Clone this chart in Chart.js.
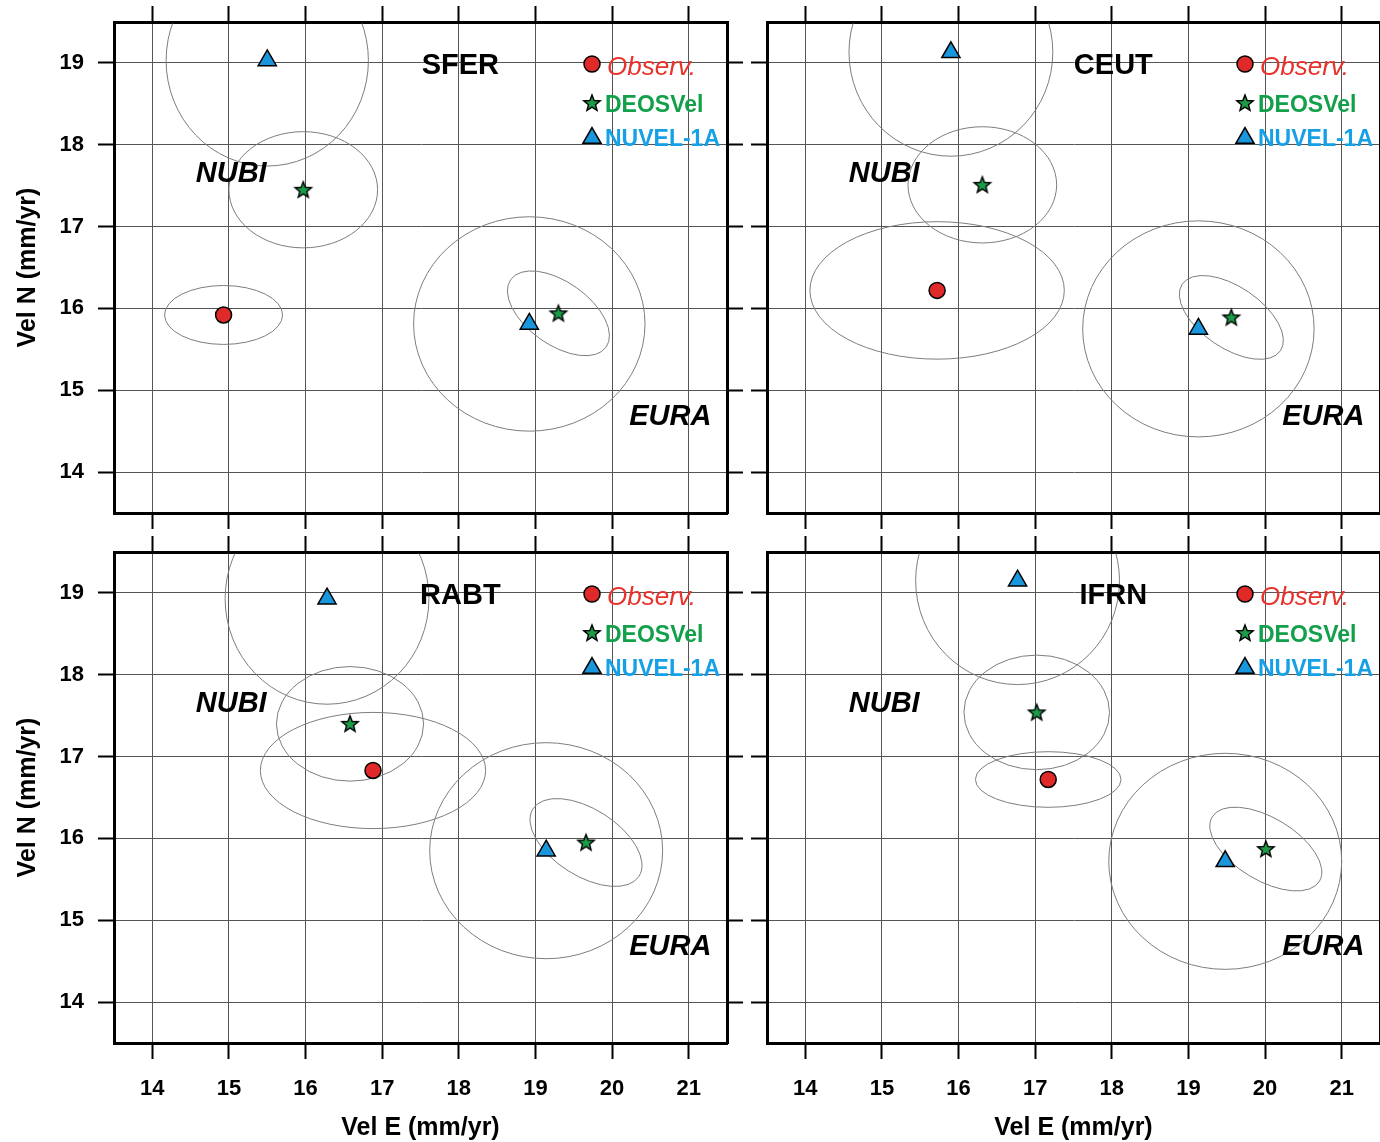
<!DOCTYPE html>
<html>
<head>
<meta charset="utf-8">
<script src="https://cdn.jsdelivr.net/npm/chart.js@4.4.1/dist/chart.umd.min.js"></script>
<style>
  html, body { margin: 0; padding: 0; background: #fff; overflow: hidden; width: 1380px; height: 1142px; }
  canvas { position: absolute; }
</style>
</head>
<body>
<canvas id="c0" width="747" height="533" style="left:0;top:0"></canvas>
<canvas id="c1" width="653" height="533" style="left:747px;top:0"></canvas>
<canvas id="c2" width="747" height="609" style="left:0;top:533px"></canvas>
<canvas id="c3" width="653" height="609" style="left:747px;top:533px"></canvas>
<script>
// GPS stations, one panel each
const STATIONS = ['SFER', 'CEUT', 'RABT', 'IFRN'];
const E_TICKS = [14, 15, 16, 17, 18, 19, 20, 21];
const N_TICKS = [14, 15, 16, 17, 18, 19];

// Per station: [Vel E, Vel N, ellipse semi-axis E, ellipse semi-axis N, E/N correlation] (mm/yr)
const OBSERVED = [
  [14.93, 15.92, 0.77, 0.36, 0],
  [15.72, 16.22, 1.66, 0.84, 0],
  [16.88, 16.83, 1.47, 0.71, 0],
  [17.17, 16.72, 0.95, 0.34, 0]
];
const DEOS_NUBI = [
  [15.97, 17.45, 0.97, 0.71, 0],
  [16.31, 17.51, 0.97, 0.71, 0],
  [16.58, 17.40, 0.96, 0.70, 0],
  [17.02, 17.54, 0.95, 0.70, 0]
];
const DEOS_EURA = [
  [19.30, 15.94, 0.666, 0.518, -0.53],
  [19.56, 15.89, 0.679, 0.512, -0.55],
  [19.66, 15.95, 0.731, 0.537, -0.52],
  [20.01, 15.87, 0.731, 0.512, -0.55]
];
const NUVEL_NUBI = [
  [15.50, 19.03, 1.32, 1.29, 0],
  [15.90, 19.13, 1.33, 1.27, 0],
  [16.28, 18.93, 1.33, 1.29, 0],
  [16.77, 19.15, 1.33, 1.27, 0]
];
const NUVEL_EURA = [
  [18.92, 15.81, 1.51, 1.31, 0],
  [19.13, 15.75, 1.51, 1.32, 0],
  [19.14, 15.85, 1.52, 1.32, 0],
  [19.48, 15.72, 1.52, 1.32, 0]
];

const FONT = "'Liberation Sans', Arial, Helvetica, sans-serif";
const RED = '#e02a2a', GREEN = '#1c9c48', BLUE = '#1a97dc';
const RED_TXT = '#e8322c', GREEN_TXT = '#12a04a', BLUE_TXT = '#16a0e6';
const GRID = '#555';
const E_MIN = 13.5, E_MAX = 21.5, N_MIN = 13.5, N_MAX = 19.5;

// filled five-pointed star used as a point marker
function makeStar(fill) {
  const c = document.createElement('canvas');
  c.width = 22; c.height = 22;
  const g = c.getContext('2d');
  g.beginPath();
  for (let k = 0; k < 10; k++) {
    const r = k % 2 ? 3.7 : 8.6;
    const a = -Math.PI / 2 + k * Math.PI / 5;
    const px = 11 + r * Math.cos(a), py = 11.5 + r * Math.sin(a);
    if (k) g.lineTo(px, py); else g.moveTo(px, py);
  }
  g.closePath();
  g.fillStyle = fill; g.fill();
  g.lineWidth = 1.4; g.strokeStyle = '#000'; g.lineJoin = 'miter'; g.stroke();
  return c;
}
const STAR = makeStar(GREEN);

const toPoint = v => ({ x: v[0], y: v[1], sE: v[2], sN: v[3], r: v[4] });

// error ellipses drawn through the panel's scales, under the markers
const ellipsePlugin = {
  id: 'errorEllipses',
  beforeDatasetsDraw(chart) {
    const { ctx, chartArea: a, scales } = chart;
    const xs = scales.x, ys = scales.y;
    ctx.save();
    ctx.beginPath();
    ctx.rect(a.left + 1.5, a.top + 1.5, a.right - a.left - 3, a.bottom - a.top - 3);
    ctx.clip();
    ctx.strokeStyle = '#7d7d7d';
    ctx.lineWidth = 1;
    chart.data.datasets.forEach(ds => ds.data.forEach(p => {
      const cx = xs.getPixelForValue(p.x), cy = ys.getPixelForValue(p.y);
      const ax = xs.getPixelForValue(p.x + p.sE) - cx;
      const ay = cy - ys.getPixelForValue(p.y + p.sN);
      const sxx = ax * ax, syy = ay * ay, sxy = -p.r * ax * ay;
      const m = (sxx + syy) / 2;
      const d = Math.sqrt(((sxx - syy) / 2) ** 2 + sxy * sxy);
      const rot = 0.5 * Math.atan2(2 * sxy, sxx - syy);
      ctx.beginPath();
      ctx.ellipse(cx, cy, Math.sqrt(m + d), Math.sqrt(Math.max(m - d, 0)), rot, 0, Math.PI * 2);
      ctx.stroke();
    }));
    ctx.restore();
  }
};

// station name, plate names and the key
const annotationPlugin = {
  id: 'panelText',
  afterDatasetsDraw(chart) {
    const { ctx, chartArea: a, scales } = chart;
    const xs = scales.x, ys = scales.y;
    const name = chart.options.plugins.panelText.station;
    ctx.save();
    ctx.textAlign = 'center';
    ctx.textBaseline = 'middle';
    ctx.fillStyle = '#000';
    ctx.font = `bold 29px ${FONT}`;
    ctx.fillText(name, xs.getPixelForValue(18.02), ys.getPixelForValue(18.96));
    ctx.font = `italic bold 29px ${FONT}`;
    ctx.fillText('NUBI', xs.getPixelForValue(15.03), ys.getPixelForValue(17.645));
    ctx.fillText('EURA', xs.getPixelForValue(20.76), ys.getPixelForValue(14.675));

    const mx = a.left + 478;
    const items = [
      { style: 'circle', radius: 8, fill: RED, dy: 42, text: 'Observ.', font: `italic 26px ${FONT}`, color: RED_TXT, tx: 15, ty: 46 },
      { style: STAR, radius: 8, fill: GREEN, dy: 81, text: 'DEOSVel', font: `bold 23px ${FONT}`, color: GREEN_TXT, tx: 13, ty: 84 },
      { style: 'triangle', radius: 10.5, fill: BLUE, dy: 116, text: 'NUVEL-1A', font: `bold 23px ${FONT}`, color: BLUE_TXT, tx: 13, ty: 118 }
    ];
    items.forEach(it => {
      ctx.fillStyle = it.fill;
      ctx.strokeStyle = '#000';
      ctx.lineWidth = 1.5;
      Chart.helpers.drawPoint(ctx, { pointStyle: it.style, radius: it.radius, borderWidth: 1.5, rotation: 0 }, mx, a.top + it.dy);
      ctx.font = it.font;
      ctx.fillStyle = it.color;
      ctx.textAlign = 'left';
      ctx.fillText(it.text, mx + it.tx, a.top + it.ty);
    });
    ctx.restore();
  }
};

function noPad(s) { s.paddingTop = 0; s.paddingBottom = 0; s.paddingLeft = 0; s.paddingRight = 0; }

function buildChart(id, i, layout) {
  const { leftW, rightW, topH, bottomH, showE, showN } = layout;
  const tickFont = { family: FONT, size: 22, weight: 'bold' };
  const titleFont = { family: FONT, size: 25, weight: 'bold', lineHeight: 1.1 };
  const gridMain = { color: GRID, lineWidth: 1, drawTicks: true, tickLength: 16, tickWidth: 2, tickColor: '#000' };
  const gridEdge = Object.assign({}, gridMain, { drawOnChartArea: false });
  const border = { display: true, color: '#000', width: 3 };
  const eTicks = s => { s.ticks = E_TICKS.map(v => ({ value: v })); };
  const nTicks = s => { s.ticks = N_TICKS.map(v => ({ value: v })); };

  return new Chart(document.getElementById(id), {
    type: 'scatter',
    data: {
      datasets: [
        { label: 'Observ.', data: [toPoint(OBSERVED[i])], pointStyle: 'circle', pointRadius: 8, pointHoverRadius: 8,
          backgroundColor: RED, borderColor: '#000', borderWidth: 1.5 },
        { label: 'DEOSVel', data: [toPoint(DEOS_NUBI[i]), toPoint(DEOS_EURA[i])], pointStyle: STAR, pointRadius: 8,
          backgroundColor: GREEN, borderColor: '#000', borderWidth: 1.4 },
        { label: 'NUVEL-1A', data: [toPoint(NUVEL_NUBI[i]), toPoint(NUVEL_EURA[i])], pointStyle: 'triangle', pointRadius: 10.5, pointHoverRadius: 10.5,
          backgroundColor: BLUE, borderColor: '#000', borderWidth: 1.5 }
      ]
    },
    options: {
      responsive: false,
      animation: false,
      devicePixelRatio: 1,
      layout: { padding: 0 },
      events: [],
      plugins: {
        legend: { display: false },
        tooltip: { enabled: false },
        panelText: { station: STATIONS[i] }
      },
      scales: {
        x: {
          type: 'linear', position: 'bottom', min: E_MIN, max: E_MAX,
          afterBuildTicks: eTicks, afterFit: s => { s.height = bottomH; noPad(s); },
          grid: gridMain, border,
          ticks: { display: showE, font: tickFont, color: '#000', padding: 17, maxRotation: 0, autoSkip: false },
          title: { display: showE, text: 'Vel E (mm/yr)', font: titleFont, color: '#000', padding: { top: 0, bottom: 0 } }
        },
        xTop: {
          type: 'linear', axis: 'x', position: 'top', min: E_MIN, max: E_MAX,
          afterBuildTicks: eTicks, afterFit: s => { s.height = topH; noPad(s); },
          grid: gridEdge, border, ticks: { display: false }
        },
        y: {
          type: 'linear', position: 'left', min: N_MIN, max: N_MAX,
          afterBuildTicks: nTicks, afterFit: s => { s.width = leftW; noPad(s); },
          grid: gridMain, border,
          ticks: { display: showN, font: tickFont, color: '#000', padding: 14 },
          title: { display: showN, text: 'Vel N (mm/yr)', font: titleFont, color: '#000', padding: { top: 14, bottom: 0 } }
        },
        yRight: {
          type: 'linear', axis: 'y', position: 'right', min: N_MIN, max: N_MAX,
          afterBuildTicks: nTicks, afterFit: s => { s.width = rightW; noPad(s); },
          grid: gridEdge, border, ticks: { display: false }
        }
      }
    },
    plugins: [ellipsePlugin, annotationPlugin]
  });
}

buildChart('c0', 0, { leftW: 114, rightW: 20, topH: 22, bottomH: 20, showE: false, showN: true });
buildChart('c1', 1, { leftW: 20, rightW: 20, topH: 22, bottomH: 20, showE: false, showN: false });
buildChart('c2', 2, { leftW: 114, rightW: 20, topH: 19, bottomH: 99, showE: true, showN: true });
buildChart('c3', 3, { leftW: 20, rightW: 20, topH: 19, bottomH: 99, showE: true, showN: false });
</script>
</body>
</html>
